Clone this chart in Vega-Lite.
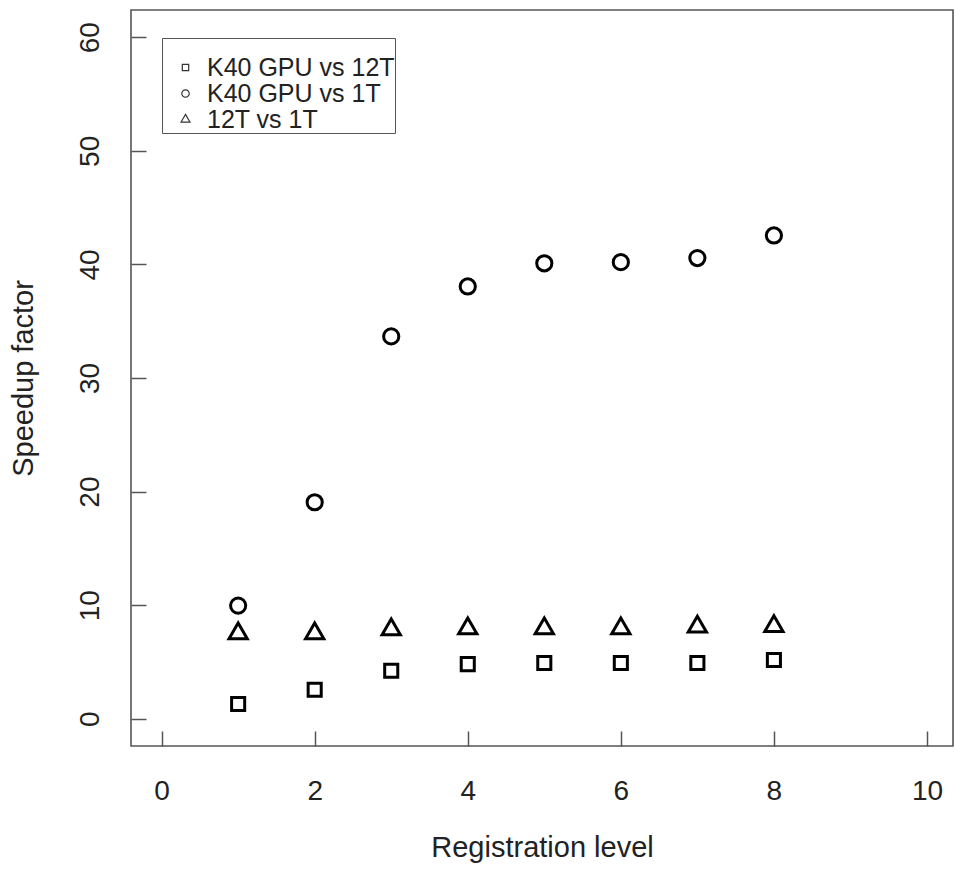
{
  "$schema": "https://vega.github.io/schema/vega-lite/v6.json",
  "width": 822,
  "height": 736,
  "autosize": "none",
  "padding": {"left": 131, "top": 10, "right": 2, "bottom": 123},
  "background": "white",
  "config": {
    "font": "Liberation Sans",
    "view": {"stroke": "#555", "strokeWidth": 1.6}
  },
  "data": {
    "values": [
      {"level": 1, "series": "K40 GPU vs 12T", "speedup": 1.29},
      {"level": 2, "series": "K40 GPU vs 12T", "speedup": 2.55},
      {"level": 3, "series": "K40 GPU vs 12T", "speedup": 4.23},
      {"level": 4, "series": "K40 GPU vs 12T", "speedup": 4.81},
      {"level": 5, "series": "K40 GPU vs 12T", "speedup": 4.9},
      {"level": 6, "series": "K40 GPU vs 12T", "speedup": 4.9},
      {"level": 7, "series": "K40 GPU vs 12T", "speedup": 4.9},
      {"level": 8, "series": "K40 GPU vs 12T", "speedup": 5.17},
      {"level": 1, "series": "K40 GPU vs 1T", "speedup": 9.96},
      {"level": 2, "series": "K40 GPU vs 1T", "speedup": 19.06},
      {"level": 3, "series": "K40 GPU vs 1T", "speedup": 33.66},
      {"level": 4, "series": "K40 GPU vs 1T", "speedup": 38.06},
      {"level": 5, "series": "K40 GPU vs 1T", "speedup": 40.1},
      {"level": 6, "series": "K40 GPU vs 1T", "speedup": 40.2},
      {"level": 7, "series": "K40 GPU vs 1T", "speedup": 40.56},
      {"level": 8, "series": "K40 GPU vs 1T", "speedup": 42.55},
      {"level": 1, "series": "12T vs 1T", "speedup": 7.5},
      {"level": 2, "series": "12T vs 1T", "speedup": 7.5},
      {"level": 3, "series": "12T vs 1T", "speedup": 7.85},
      {"level": 4, "series": "12T vs 1T", "speedup": 7.95},
      {"level": 5, "series": "12T vs 1T", "speedup": 7.95},
      {"level": 6, "series": "12T vs 1T", "speedup": 7.95},
      {"level": 7, "series": "12T vs 1T", "speedup": 8.1},
      {"level": 8, "series": "12T vs 1T", "speedup": 8.15}
    ]
  },
  "mark": {"type": "point", "filled": false, "strokeWidth": 3, "opacity": 1},
  "encoding": {
    "x": {
      "field": "level",
      "type": "quantitative",
      "scale": {"domain": [-0.4, 10.34], "nice": false, "zero": false},
      "axis": {
        "values": [0, 2, 4, 6, 8, 10],
        "title": "Registration level",
        "domain": false,
        "grid": false,
        "tickSize": -15,
        "tickColor": "#555",
        "tickWidth": 1.5,
        "labelFontSize": 28,
        "labelColor": "#222",
        "labelPadding": 46,
        "labelBaseline": "top",
        "labelFlush": false,
        "labelOverlap": false,
        "titleFontSize": 29,
        "titleFontWeight": "normal",
        "titleColor": "#222",
        "titleBaseline": "alphabetic",
        "titleY": 110
      }
    },
    "y": {
      "field": "speedup",
      "type": "quantitative",
      "scale": {"domain": [-2.4, 62.4], "nice": false, "zero": false},
      "axis": {
        "values": [0, 10, 20, 30, 40, 50, 60],
        "title": "Speedup factor",
        "domain": false,
        "grid": false,
        "tickSize": -15,
        "tickColor": "#555",
        "tickWidth": 1.5,
        "labelFontSize": 28,
        "labelColor": "#222",
        "labelAngle": 270,
        "labelAlign": "center",
        "labelBaseline": "alphabetic",
        "labelPadding": 48,
        "labelFlush": false,
        "labelOverlap": false,
        "titleFontSize": 29,
        "titleFontWeight": "normal",
        "titleColor": "#222",
        "titleAngle": 270,
        "titleAlign": "center",
        "titleBaseline": "alphabetic",
        "titleX": -99,
        "titleY": 368
      }
    },
    "shape": {
      "field": "series",
      "type": "nominal",
      "scale": {
        "domain": ["K40 GPU vs 12T", "K40 GPU vs 1T", "12T vs 1T"],
        "range": [
          "M-0.86,-0.86L0.86,-0.86L0.86,0.86L-0.86,0.86Z",
          "circle",
          "M0,-1.38L1.2,0.69L-1.2,0.69Z"
        ]
      },
      "legend": {
        "orient": "none",
        "legendX": 31,
        "legendY": 28,
        "title": " ",
        "titleFontSize": 12,
        "titlePadding": 5,
        "padding": 0,
        "symbolOffset": 11,
        "labelOffset": 9,
        "labelFontSize": 25,
        "labelColor": "#222",
        "labelLimit": 0,
        "labelExpr": "datum.label + '\u00a0\u00a0'",
        "rowPadding": -3,
        "strokeColor": "#555",
        "symbolSize": 55,
        "symbolStrokeWidth": 1.2,
        "symbolStrokeColor": "#333",
        "symbolFillColor": "transparent"
      }
    },
    "color": {"value": "black"},
    "size": {"value": 231}
  }
}
